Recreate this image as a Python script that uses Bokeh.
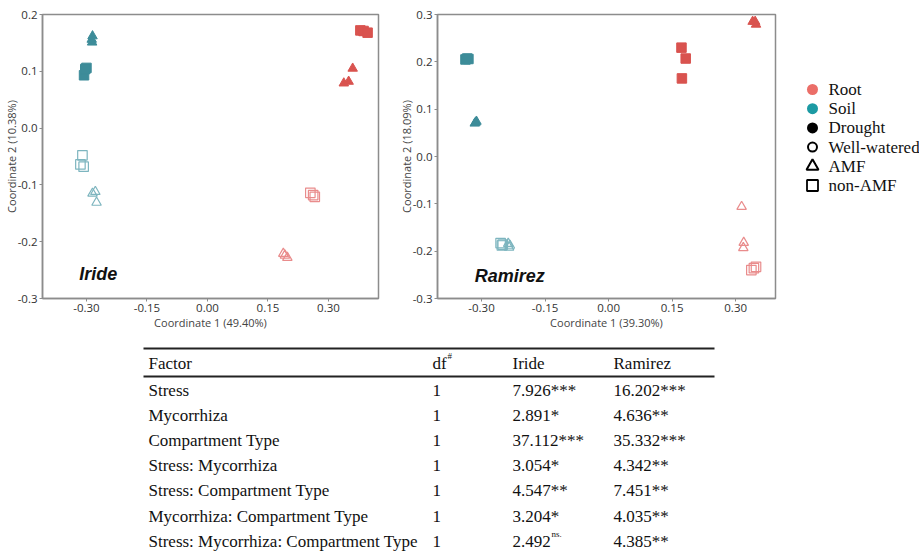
from bokeh.plotting import figure
from bokeh.layouts import row, column
from bokeh.models import Range1d, FixedTicker, NumeralTickFormatter, Label
from bokeh.core.properties import value
from bokeh.embed import file_html
from bokeh.resources import INLINE

# ---------------- data: Iride ----------------
ir_root_dr_amf_x = [0.360, 0.350, 0.338]
ir_root_dr_amf_y = [0.105, 0.082, 0.079]
ir_root_dr_non_x = [0.379, 0.387, 0.397]
ir_root_dr_non_y = [0.172, 0.171, 0.168]
ir_root_ww_amf_x = [0.188, 0.198, 0.192]
ir_root_ww_amf_y = [-0.221, -0.228, -0.224]
ir_root_ww_non_x = [0.255, 0.262, 0.266]
ir_root_ww_non_y = [-0.114, -0.118, -0.121]
ir_soil_dr_amf_x = [-0.285, -0.287, -0.286]
ir_soil_dr_amf_y = [0.162, 0.156, 0.151]
ir_soil_dr_non_x = [-0.300, -0.306, -0.303]
ir_soil_dr_non_y = [0.106, 0.093, 0.104]
ir_soil_ww_amf_x = [-0.285, -0.278, -0.275]
ir_soil_ww_amf_y = [-0.115, -0.112, -0.131]
ir_soil_ww_non_x = [-0.310, -0.315, -0.307]
ir_soil_ww_non_y = [-0.048, -0.064, -0.068]

# ---------------- data: Ramirez ----------------
ra_root_dr_amf_x = [0.340, 0.346, 0.348]
ra_root_dr_amf_y = [0.285, 0.285, 0.279]
ra_root_dr_non_x = [0.172, 0.182, 0.173]
ra_root_dr_non_y = [0.230, 0.207, 0.165]
ra_root_ww_amf_x = [0.314, 0.319, 0.318]
ra_root_ww_amf_y = [-0.106, -0.182, -0.193]
ra_root_ww_non_x = [0.337, 0.343, 0.348]
ra_root_ww_non_y = [-0.240, -0.236, -0.233]
ra_soil_dr_amf_x = [-0.316, -0.312, -0.314]
ra_soil_dr_amf_y = [0.070, 0.074, 0.072]
ra_soil_dr_non_x = [-0.338, -0.334, -0.331]
ra_soil_dr_non_y = [0.205, 0.207, 0.206]
ra_soil_ww_amf_x = [-0.237, -0.235, -0.233]
ra_soil_ww_amf_y = [-0.184, -0.192, -0.188]
ra_soil_ww_non_x = [-0.255, -0.252, -0.250]
ra_soil_ww_non_y = [-0.183, -0.188, -0.186]

x_ticks = [-0.30, -0.15, 0.00, 0.15, 0.30]
iride_y_ticks = [-0.3, -0.2, -0.1, 0.0, 0.1, 0.2]
ramirez_y_ticks = [-0.3, -0.2, -0.1, 0.0, 0.1, 0.2, 0.3]
iride_x_label = "Coordinate 1 (49.40%)"
iride_y_label = "Coordinate 2 (10.38%)"
ramirez_x_label = "Coordinate 1 (39.30%)"
ramirez_y_label = "Coordinate 2 (18.09%)"

legend_labels = ["Root", "Soil", "Drought", "Well-watered", "AMF", "non-AMF"]

table_header = ["Factor", "df", "Iride", "Ramirez"]
table_factor = ["Stress", "Mycorrhiza", "Compartment Type", "Stress: Mycorrhiza",
                "Stress: Compartment Type", "Mycorrhiza: Compartment Type",
                "Stress: Mycorrhiza: Compartment Type"]
table_df = ["1", "1", "1", "1", "1", "1", "1"]
table_iride = ["7.926***", "2.891*", "37.112***", "3.054*", "4.547**", "3.204*", "2.492"]
table_iride_sup = ["", "", "", "", "", "", "ns."]
table_ramirez = ["16.202***", "4.636**", "35.332***", "4.342**", "7.451**", "4.035**", "4.385**"]

# ---------------- styles ----------------
FILL = {"Root": "#D9534F", "Soil": "#3D8C99"}
OPEN = {"Root": "#E98C8C", "Soil": "#7DB5BF"}
SANS = "Open Sans"
ARIAL = "Liberation Sans"
SERIF = "Liberation Serif"
GRAY = "#8c8c8c"
TOP_H = 335
B_TOP = 14
B_BOT = 37


def draw(p, xs, ys, comp, stress, myc):
    marker = "triangle" if myc == "AMF" else "square"
    if stress == "Drought":
        p.scatter(xs, ys, marker=marker, size=9.5, fill_color=FILL[comp],
                  line_color=FILL[comp], line_width=1)
    else:
        p.scatter(xs, ys, marker=marker, size=9.5, fill_color=None,
                  line_color=OPEN[comp], line_width=1.2)


def make_panel(width, left, right, xr, yr, yticks, xlabel, ylabel, name, name_x, name_y):
    p = figure(width=width, height=TOP_H, output_backend="svg", toolbar_location=None,
               x_range=Range1d(*xr), y_range=Range1d(*yr),
               min_border_left=left, min_border_right=right,
               min_border_top=B_TOP, min_border_bottom=B_BOT)
    p.grid.visible = False
    p.outline_line_color = GRAY
    p.outline_line_width = 1.5
    p.background_fill_color = "white"
    p.border_fill_color = "white"
    p.xaxis.ticker = FixedTicker(ticks=x_ticks)
    p.yaxis.ticker = FixedTicker(ticks=yticks)
    p.xaxis.formatter = NumeralTickFormatter(format="0.00")
    p.yaxis.formatter = NumeralTickFormatter(format="0.0")
    p.xaxis.axis_label = xlabel
    p.yaxis.axis_label = ylabel
    for ax in (p.xaxis, p.yaxis):
        ax.axis_line_color = GRAY
        ax.axis_line_width = 1.5
        ax.major_tick_line_color = GRAY
        ax.major_tick_out = 3
        ax.major_tick_in = 0
        ax.minor_tick_line_color = None
        ax.major_label_text_font = SANS
        ax.major_label_text_font_size = "11.5px"
        ax.major_label_text_color = "#333333"
        ax.major_label_standoff = 2
        ax.axis_label_text_font = SANS
        ax.axis_label_text_font_size = "11px"
        ax.axis_label_text_font_style = "normal"
        ax.axis_label_text_color = "#444444"
    p.xaxis.axis_label_standoff = 0
    p.yaxis.axis_label_standoff = -4
    p.add_layout(Label(x=name_x, y=name_y, text=name, text_font=ARIAL,
                       text_font_size="18px", text_font_style="bold italic",
                       text_color="#111111", text_baseline="middle"))
    return p


p1 = make_panel(395, 42, 17, (-0.409, 0.424), (-0.3, 0.2), iride_y_ticks,
                iride_x_label, iride_y_label, "Iride", -0.318, -0.257)
draw(p1, ir_root_dr_amf_x, ir_root_dr_amf_y, "Root", "Drought", "AMF")
draw(p1, ir_root_dr_non_x, ir_root_dr_non_y, "Root", "Drought", "non-AMF")
draw(p1, ir_root_ww_amf_x, ir_root_ww_amf_y, "Root", "Well-watered", "AMF")
draw(p1, ir_root_ww_non_x, ir_root_ww_non_y, "Root", "Well-watered", "non-AMF")
draw(p1, ir_soil_dr_amf_x, ir_soil_dr_amf_y, "Soil", "Drought", "AMF")
draw(p1, ir_soil_dr_non_x, ir_soil_dr_non_y, "Soil", "Drought", "non-AMF")
draw(p1, ir_soil_ww_amf_x, ir_soil_ww_amf_y, "Soil", "Well-watered", "AMF")
draw(p1, ir_soil_ww_non_x, ir_soil_ww_non_y, "Soil", "Well-watered", "non-AMF")

p2 = make_panel(390, 42, 10, (-0.404, 0.394), (-0.3, 0.3), ramirez_y_ticks,
                ramirez_x_label, ramirez_y_label, "Ramirez", -0.316, -0.253)
draw(p2, ra_root_dr_amf_x, ra_root_dr_amf_y, "Root", "Drought", "AMF")
draw(p2, ra_root_dr_non_x, ra_root_dr_non_y, "Root", "Drought", "non-AMF")
draw(p2, ra_root_ww_amf_x, ra_root_ww_amf_y, "Root", "Well-watered", "AMF")
draw(p2, ra_root_ww_non_x, ra_root_ww_non_y, "Root", "Well-watered", "non-AMF")
draw(p2, ra_soil_dr_amf_x, ra_soil_dr_amf_y, "Soil", "Drought", "AMF")
draw(p2, ra_soil_dr_non_x, ra_soil_dr_non_y, "Soil", "Drought", "non-AMF")
draw(p2, ra_soil_ww_amf_x, ra_soil_ww_amf_y, "Soil", "Well-watered", "AMF")
draw(p2, ra_soil_ww_non_x, ra_soil_ww_non_y, "Soil", "Well-watered", "non-AMF")


def bare(width, height, top=0, bottom=0):
    # y range maps directly to pixel rows of the figure (top = 0)
    p = figure(width=width, height=height, output_backend="svg", toolbar_location=None,
               x_range=Range1d(0, width), y_range=Range1d(height - bottom, top),
               min_border=0, min_border_top=top, min_border_bottom=bottom)
    p.axis.visible = False
    p.grid.visible = False
    p.outline_line_color = None
    return p


# ---------------- legend panel ----------------
p3 = bare(134, TOP_H, B_TOP, B_BOT)
leg_y = [89 + 19.2 * i for i in range(len(legend_labels))]
leg_mx = 27
p3.scatter([leg_mx], [leg_y[0]], marker="circle", size=11, fill_color="#EB6E68", line_color=None)
p3.scatter([leg_mx], [leg_y[1]], marker="circle", size=11, fill_color="#1C9AA3", line_color=None)
p3.scatter([leg_mx], [leg_y[2]], marker="circle", size=11, fill_color="black", line_color=None)
p3.scatter([leg_mx], [leg_y[3]], marker="circle", size=9, fill_color=None, line_color="black", line_width=2)
p3.scatter([leg_mx], [leg_y[4]], marker="triangle", size=12, fill_color=None, line_color="black", line_width=2)
p3.scatter([leg_mx], [leg_y[5]], marker="square", size=11, fill_color=None, line_color="black", line_width=1.8)
p3.text(x=[43] * len(legend_labels), y=leg_y, text=legend_labels,
        text_font=value(SERIF), text_font_size="17px", text_baseline="middle",
        text_align="left", text_color="#111111")

# ---------------- table panel ----------------
p4 = bare(919, 218)
col_x = [148, 432, 512, 613]
header_y = 28
row_y = [54.5 + 25.2 * i for i in range(len(table_factor))]
text_kw = dict(text_font=value(SERIF), text_font_size="17px", text_baseline="middle",
               text_align="left", text_color="#111111")
p4.segment(x0=[143, 143], y0=[13, 41], x1=[714, 714], y1=[13, 41],
           line_color="#222222", line_width=2)
p4.text(x=col_x, y=[header_y] * 4, text=table_header, **text_kw)
p4.text(x=[col_x[1] + 15], y=[header_y - 8], text=["#"], text_font=value(SERIF),
        text_font_size="9px", text_baseline="middle", text_color="#111111")
p4.text(x=[col_x[0]] * 7, y=row_y, text=table_factor, **text_kw)
p4.text(x=[col_x[1]] * 7, y=row_y, text=table_df, **text_kw)
p4.text(x=[col_x[2]] * 7, y=row_y, text=table_iride, **text_kw)
p4.text(x=[col_x[3]] * 7, y=row_y, text=table_ramirez, **text_kw)
p4.text(x=[col_x[2] + 39] * 7, y=[y - 7 for y in row_y], text=table_iride_sup,
        text_font=value(SERIF), text_font_size="9px", text_baseline="middle",
        text_color="#111111")

layout = column(row(p1, p2, p3), p4)
open("out.html", "w").write(file_html(layout, INLINE))
